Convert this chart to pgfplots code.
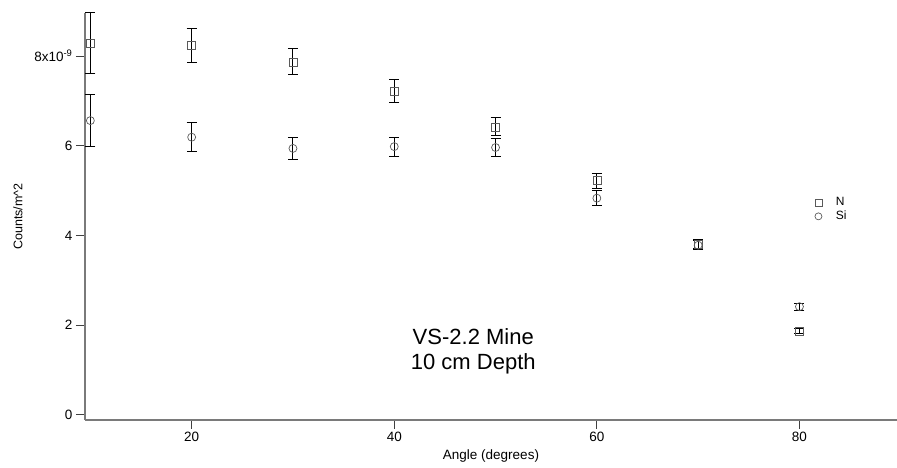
\documentclass[border=0pt]{standalone}
\usepackage{fontspec}
\setmainfont{Liberation Sans}
\usepackage{pgfplots}
\pgfplotsset{compat=1.18}
\definecolor{spine}{HTML}{7A7A7A}
\definecolor{markgray}{HTML}{5A5A5A}

\begin{document}
\begin{tikzpicture}
\begin{axis}[
    at={(0pt,0pt)}, anchor=south west,
    scale only axis,
    width=812pt, height=407pt,
    xmin=9.47, xmax=89.63,
    ymin=-0.118, ymax=8.96,
    axis lines*=left,
    axis line style={spine, line width=1.2pt},
    xtick={20,40,60,80},
    ytick={0,2,4,6,8},
    yticklabels={0,2,4,6,{8x10\textsuperscript{-9}}},
    minor tick num=0,
    tick align=outside,
    major tick length=9pt,
    tick style={black!75, line width=0.9pt},
    tick label style={font=\fontsize{13.5}{15}\selectfont},
    /pgf/number format/assume math mode=true,
    xlabel={Angle (degrees)},
    ylabel={Counts/m\^{}2},
    xlabel style={font=\fontsize{13.5}{15}\selectfont, yshift=-1pt},
    ylabel style={font=\fontsize{12.5}{14}\selectfont, yshift=5pt},
    clip=false,
    legend style={draw=none, fill=none, at={(0.895,0.557)}, anchor=north west,
        font=\fontsize{12}{13}\selectfont, row sep=0pt,
        /tikz/every odd column/.append style={column sep=12pt}},
    legend image code/.code={\draw[mark size=3.5pt] plot coordinates {(0pt,0pt)};},
    legend cell align=left,
]
\addplot[only marks, mark=square, mark size=4pt,
    mark options={draw=markgray, line width=0.7pt},
    error bars/.cd, y dir=both, y explicit,
    error mark options={rotate=90, mark size=5pt, black, line width=1pt},
    error bar style={black, line width=1pt}]
  coordinates {
    (10,8.29) +- (0,0.67)
    (20,8.23) +- (0,0.38)
    (30,7.87) +- (0,0.29)
    (40,7.22) +- (0,0.25)
    (50,6.42) +- (0,0.20)
    (60,5.22) +- (0,0.17)
    (70,3.80) +- (0,0.10)
    (80,1.87) +- (0,0.06)
  };
\addlegendentry{N}
\addplot[only marks, mark=o, mark size=4pt,
    mark options={draw=markgray, line width=0.7pt},
    error bars/.cd, y dir=both, y explicit,
    error mark options={rotate=90, mark size=5pt, black, line width=1pt},
    error bar style={black, line width=1pt}]
  coordinates {
    (10,6.56) +- (0,0.58)
    (20,6.19) +- (0,0.33)
    (30,5.94) +- (0,0.25)
    (40,5.98) +- (0,0.21)
    (50,5.96) +- (0,0.20)
    (60,4.83) +- (0,0.17)
    (70,3.78) +- (0,0.10)
    (80,2.41) +- (0,0.08)
  };
\addlegendentry{Si}
\node[align=center, font=\fontsize{22}{25}\selectfont] at (axis cs:47.8,1.42) {VS-2.2 Mine\\10 cm Depth};
\end{axis}
\pgfresetboundingbox
\path[use as bounding box] (-85pt,-48pt) rectangle (812pt,420pt);
\end{tikzpicture}
\end{document}
